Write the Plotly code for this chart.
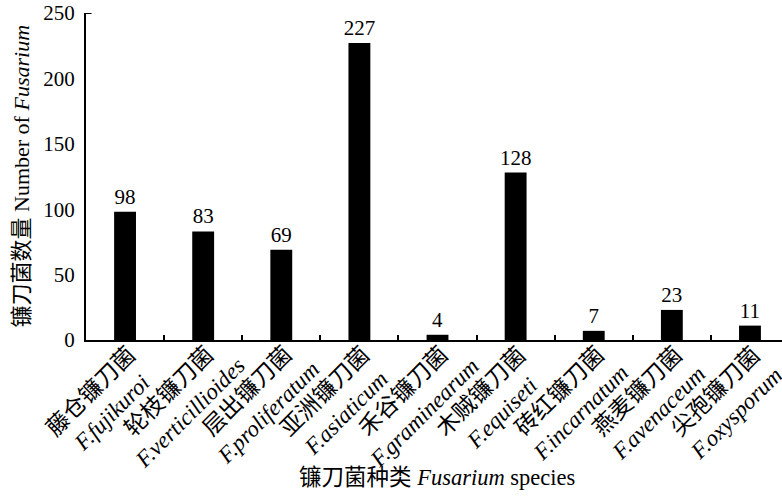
import plotly.graph_objects as go

cn_names = ["藤仓镰刀菌", "轮枝镰刀菌", "层出镰刀菌", "亚洲镰刀菌", "禾谷镰刀菌",
            "木贼镰刀菌", "砖红镰刀菌", "燕麦镰刀菌", "尖孢镰刀菌"]
latin_names = ["F.fujikuroi", "F.verticillioides", "F.proliferatum", "F.asiaticum",
               "F.graminearum", "F.equiseti", "F.incarnatum", "F.avenaceum", "F.oxysporum"]
counts = [98, 83, 69, 227, 4, 128, 7, 23, 11]
y_ticks = [0, 50, 100, 150, 200, 250]

FONT = "Liberation Serif, 'Times New Roman', 'Noto Sans CJK SC', serif"

labels = [f"{c}<br><i>{l}</i>" for c, l in zip(cn_names, latin_names)]

fig = go.Figure()
fig.add_trace(go.Bar(
    x=labels, y=counts,
    marker=dict(color="black", line=dict(width=0)),
    text=[str(v) for v in counts], textposition="outside",
    constraintext="none",
    textfont=dict(family=FONT, size=21, color="black"),
    cliponaxis=False,
))

# category labels: rotated, centre-aligned two-line blocks under each category
tick_annotations = [
    dict(text=lab, x=lab, xref="x", y=-0.19, yref="paper",
         xanchor="center", yanchor="middle", xshift=-24,
         textangle=-45, align="center", showarrow=False,
         font=dict(family=FONT, size=23))
    for lab in labels
]

fig.update_layout(
    width=782, height=498,
    margin=dict(l=86, r=0, t=13, b=158),
    paper_bgcolor="white", plot_bgcolor="white",
    font=dict(family=FONT, size=21, color="black"),
    bargap=0.72,
    showlegend=False,
    xaxis=dict(
        type="category",
        automargin=False,
        range=[-0.5, 8.41],
        tickson="boundaries",
        ticks="inside", ticklen=5, tickwidth=1.5, tickcolor="black",
        showticklabels=False,
        showline=True, linecolor="black", linewidth=2,
        showgrid=False, zeroline=False,
    ),
    yaxis=dict(
        automargin=False,
        range=[0, 250],
        tickvals=y_ticks,
        ticks="", showline=True, linecolor="black", linewidth=2,
        showgrid=False, zeroline=False,
        tickfont=dict(family=FONT, size=21),
        ticklabelstandoff=5,
        ticklabeloverflow="allow",
    ),
    shapes=[dict(type="line", xref="paper", yref="y", x0=0, x1=0.008, y0=250, y1=250,
                 line=dict(color="black", width=2))],
    annotations=tick_annotations + [
        dict(text="镰刀菌种类 <i>Fusarium</i> species", xref="paper", yref="paper",
             x=0.504, y=-0.422, xanchor="center", yanchor="middle", showarrow=False,
             font=dict(family=FONT, size=22.5)),
        dict(text="镰刀菌数量 Number of <i>Fusarium</i>", xref="paper", yref="paper",
             x=-0.092, y=0.5, xanchor="center", yanchor="middle", showarrow=False,
             textangle=-90, font=dict(family=FONT, size=22)),
    ],
)

fig.write_html("out.html", config={"displayModeBar": False},
               post_script="document.body.style.margin='0px';")
